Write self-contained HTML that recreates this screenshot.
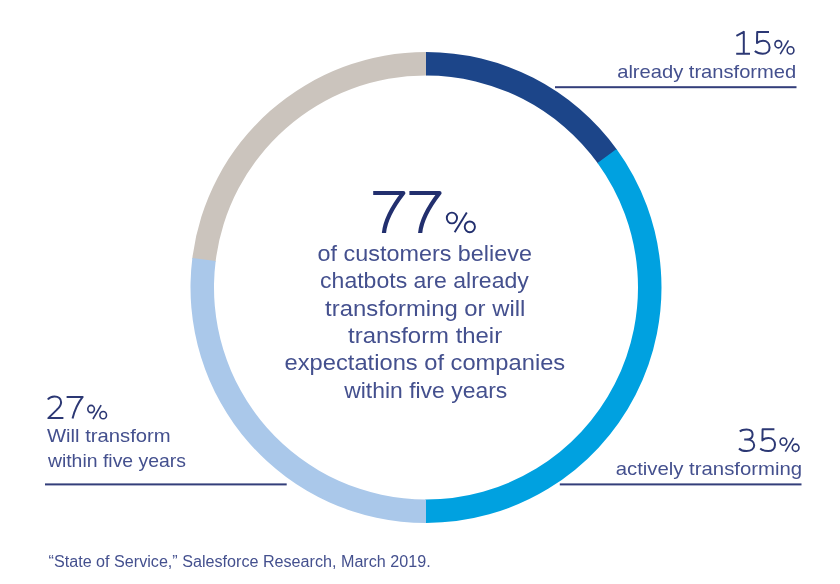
<!DOCTYPE html>
<html><head><meta charset="utf-8"><style>
html,body{margin:0;padding:0;background:#fff;}
svg{display:block;will-change:transform;}
text{font-family:"Liberation Sans",sans-serif;}
</style></head><body>
<svg width="840" height="584" viewBox="0 0 840 584">
<rect width="840" height="584" fill="#fff"/>
<path d="M192.26 258.80A235.5 235.5 0 0 1 426.82 52.00L426.74 75.50A212 212 0 0 0 215.58 261.66Z" fill="#cbc4bd"/>
<path d="M426.00 52.00A235.5 235.5 0 0 1 617.01 149.74L597.95 163.49A212 212 0 0 0 426.00 75.50Z" fill="#1c4589"/>
<path d="M616.52 149.08A235.5 235.5 0 0 1 425.18 523.00L425.26 499.50A212 212 0 0 0 597.51 162.89Z" fill="#00a1e0"/>
<path d="M426.00 523.00A235.5 235.5 0 0 1 192.36 257.98L215.67 260.93A212 212 0 0 0 426.00 499.50Z" fill="#aac8ea"/>
<clipPath id="c7"><rect x="360" y="180" width="90" height="52.9"/></clipPath>
<path clip-path="url(#c7)" d="M373.2 193H403.3Q384 217.8 383.8 236" fill="none" stroke="#222f6e" stroke-width="4.2" stroke-linejoin="round"/>
<path clip-path="url(#c7)" d="M409.4 193H439.5Q420.2 217.8 420 236" fill="none" stroke="#222f6e" stroke-width="4.2" stroke-linejoin="round"/>
<g fill="none" stroke="#222f6e" stroke-width="1.9"><ellipse cx="451.92" cy="218.01" rx="5.12" ry="5.41"/><ellipse cx="469.83" cy="226.84" rx="5.12" ry="5.41"/><path d="M466.79 212.51L454.65 232.34"/></g>
<path d="M736.4 35.8L743.8 31.8V53.8M736.2 53.8H750M769 32H757.2L757 43.1C758.6 41.4 760.8 40.7 763 40.7C767 40.7 769.6 43.5 769.6 47.4C769.6 51.4 766.8 53.8 762.8 53.8C759.6 53.8 756.6 52.7 754.8 51.1" fill="none" stroke="#2c3874" stroke-width="2.0" stroke-linejoin="round"/>
<path d="M739.8 431.5C741.3 430.1 743.8 429.5 746.6 429.5C750.5 429.5 752.6 431.6 752.6 434.5C752.6 437.7 750 439.5 746.6 439.5H744.2M746.6 439.5C751 439.5 754.2 441.7 754.2 445.3C754.2 448.9 751 451.1 746.6 451.1C743.2 451.1 740.6 450.2 739 448.5M774.4 429.3H762.6L762.4 440.4C764 438.7 766.2 438 768.4 438C772.4 438 775 440.8 775 444.7C775 448.7 772.2 451.1 768.2 451.1C765 451.1 762 450 760.2 448.4" fill="none" stroke="#2c3874" stroke-width="2.0" stroke-linejoin="round"/>
<path d="M47.8 399.5C49.2 397.5 51.5 396.4 54.5 396.4C58.5 396.4 61.1 398.9 61.1 402.2C61.1 405.2 59.6 407.3 57 409.6L48.3 418.1H63.4M66.6 396.9H82.69Q75.78 405.54 72.54 418.5" fill="none" stroke="#2c3874" stroke-width="2.0" stroke-linejoin="round"/>
<g fill="none" stroke="#2c3874" stroke-width="1.6"><ellipse cx="778.3" cy="44.22" rx="3.35" ry="3.62"/><ellipse cx="790.54" cy="50.38" rx="3.35" ry="3.62"/><path d="M788.47 40.4L780.17 54.2"/></g>
<g fill="none" stroke="#2c3874" stroke-width="1.6"><ellipse cx="783.44" cy="441.62" rx="3.34" ry="3.62"/><ellipse cx="795.65" cy="447.77" rx="3.34" ry="3.62"/><path d="M793.58 437.8L785.3 451.6"/></g>
<g fill="none" stroke="#2c3874" stroke-width="1.6"><ellipse cx="91.1" cy="409.03" rx="3.3" ry="3.62"/><ellipse cx="103.19" cy="415.18" rx="3.3" ry="3.62"/><path d="M101.14 405.2L92.94 419"/></g>
<text id="c1" x="317.6" y="260.7" font-size="22.5" fill="#44508e" textLength="214.36" lengthAdjust="spacingAndGlyphs">of customers believe</text>
<text id="c2" x="320.1" y="288.1" font-size="22.5" fill="#44508e" textLength="208.68" lengthAdjust="spacingAndGlyphs">chatbots are already</text>
<text id="c3" x="325.1" y="315.5" font-size="22.5" fill="#44508e" textLength="200.21" lengthAdjust="spacingAndGlyphs">transforming or will</text>
<text id="c4" x="348.1" y="342.9" font-size="22.5" fill="#44508e" textLength="154.05" lengthAdjust="spacingAndGlyphs">transform their</text>
<text id="c5" x="284.6" y="370.3" font-size="22.5" fill="#44508e" textLength="280.62" lengthAdjust="spacingAndGlyphs">expectations of companies</text>
<text id="c6" x="344.2" y="397.7" font-size="22.5" fill="#44508e" textLength="163.06" lengthAdjust="spacingAndGlyphs">within five years</text>
<text id="l15" x="617.2" y="77.7" font-size="18.6" fill="#44508e" textLength="179.02" lengthAdjust="spacingAndGlyphs">already transformed</text>
<text id="l35" x="615.7" y="475.1" font-size="18.6" fill="#44508e" textLength="186.43" lengthAdjust="spacingAndGlyphs">actively transforming</text>
<text id="l27a" x="46.9" y="442.4" font-size="18.6" fill="#44508e" textLength="123.77" lengthAdjust="spacingAndGlyphs">Will transform</text>
<text id="l27b" x="47.9" y="466.5" font-size="18.6" fill="#44508e" textLength="138.12" lengthAdjust="spacingAndGlyphs">within five years</text>
<text id="foot" x="48.6" y="566.5" font-size="16" fill="#44508e" textLength="382.04" lengthAdjust="spacingAndGlyphs">“State of Service,” Salesforce Research, March 2019.</text>
<rect x="555" y="86.2" width="241.5" height="2" fill="#333e7a"/><rect x="559.8" y="483.4" width="241.7" height="2" fill="#333e7a"/><rect x="45" y="483.4" width="241.7" height="2" fill="#333e7a"/>
</svg>
</body></html>
